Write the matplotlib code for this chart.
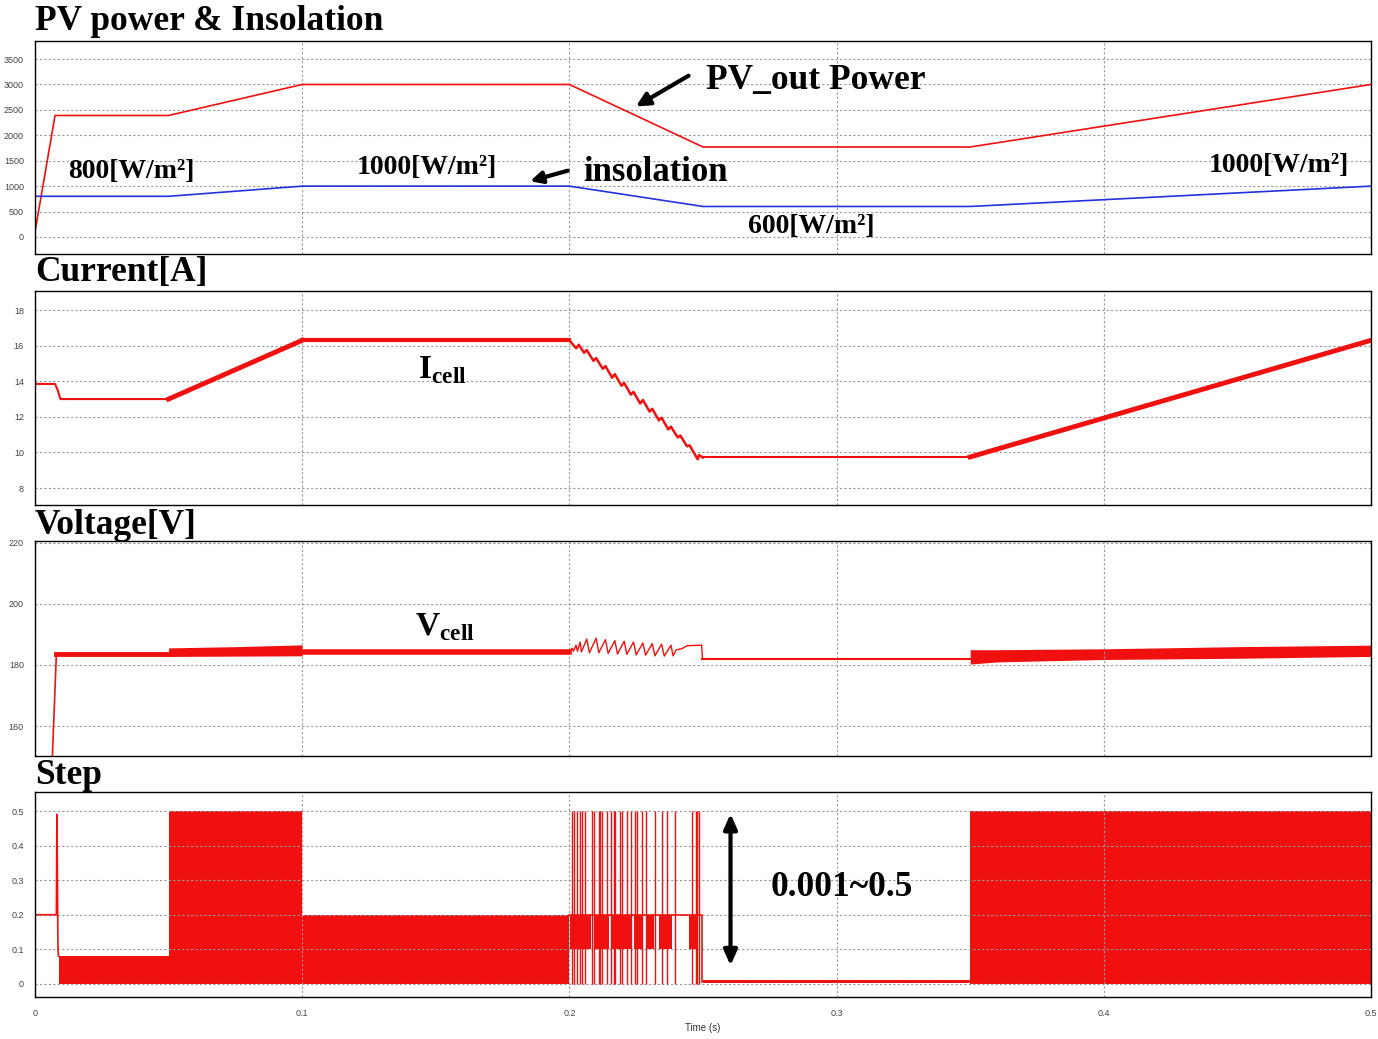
import matplotlib
matplotlib.use("Agg")
import matplotlib.pyplot as plt

RED = "#f01010"
BLUE = "#2233dd"
SERIF = "Liberation Serif"

plt.rcParams["mathtext.fontset"] = "custom"
plt.rcParams["mathtext.rm"] = "Liberation Serif:bold"
plt.rcParams["mathtext.bf"] = "Liberation Serif:bold"

# ---- PV power & insolation ----
pow_t = [0, 0.0075, 0.05, 0.1, 0.2, 0.25, 0.35, 0.5]
pow_w = [100, 2390, 2390, 3000, 3000, 1770, 1770, 3000]
ins_t = [0, 0.05, 0.1, 0.2, 0.25, 0.35, 0.5]
ins_w = [800, 800, 1000, 1000, 600, 600, 1000]

# ---- current ----
cur_start_t = [0, 0.0075, 0.0085, 0.0095, 0.05]
cur_start_v = [13.85, 13.85, 13.5, 13.0, 13.0]
cur_ramp1_t = [0.05, 0.1]
cur_ramp1_v = [13.0, 16.3]
cur_flat1_t = [0.1, 0.2]
cur_flat1_v = [16.3, 16.3]
cur_saw_t = [0.200, 0.2025, 0.2035, 0.2055, 0.2065, 0.2090, 0.2100, 0.2125,
             0.2135, 0.2160, 0.2170, 0.2195, 0.2205, 0.2230, 0.2240, 0.2265,
             0.2275, 0.2300, 0.2310, 0.2335, 0.2345, 0.2370, 0.2380, 0.2405,
             0.2415, 0.2440, 0.2450, 0.2480, 0.2485, 0.2500]
cur_saw_v = [16.30, 15.85, 16.05, 15.60, 15.75, 15.15, 15.30, 14.70,
             14.85, 14.20, 14.40, 13.75, 13.90, 13.25, 13.40, 12.75,
             12.95, 12.30, 12.45, 11.80, 11.95, 11.30, 11.45, 10.85,
             10.95, 10.35, 10.40, 9.62, 9.85, 9.72]
cur_flat2_t = [0.25, 0.35]
cur_flat2_v = [9.72, 9.72]
cur_ramp2_t = [0.35, 0.5]
cur_ramp2_v = [9.75, 16.3]

# ---- voltage ----
vol_start_t = [0.0065, 0.0080]
vol_start_v = [150, 183.6]
vol_flat1_t = [0.008, 0.05]
vol_flat1_v = [183.6, 183.6]
vol_band1_t = [0.05, 0.075, 0.1]
vol_band1_lo = [182.8, 182.9, 183.0]
vol_band1_hi = [185.6, 186.0, 186.6]
vol_flat2_t = [0.1, 0.2]
vol_flat2_v = [184.3, 184.3]
vol_saw_t = [0.2000, 0.2010, 0.2015, 0.2025, 0.2030, 0.2040, 0.2045, 0.2065,
             0.2075, 0.2100, 0.2110, 0.2135, 0.2145, 0.2170, 0.2180, 0.2205,
             0.2215, 0.2240, 0.2250, 0.2275, 0.2285, 0.2310, 0.2320, 0.2345,
             0.2355, 0.2380, 0.2388, 0.2400, 0.2420, 0.2440, 0.2495, 0.2498]
vol_saw_v = [184.3, 185.5, 184.5, 186.5, 184.5, 187.5, 184.3, 188.5,
             184.0, 188.8, 184.0, 188.3, 183.8, 188.0, 183.6, 187.8,
             183.5, 187.5, 183.3, 187.2, 183.2, 187.0, 183.0, 186.8,
             182.9, 186.5, 183.0, 185.0, 185.3, 186.3, 186.5, 181.9]
vol_flat3_t = [0.2498, 0.35]
vol_flat3_v = [181.9, 181.9]
vol_band2_t = [0.35, 0.36, 0.40, 0.45, 0.50]
vol_band2_lo = [180.3, 181.0, 181.8, 182.2, 182.8]
vol_band2_hi = [185.0, 185.0, 185.3, 186.0, 186.5]

# ---- step ----
step_start_t = [0, 0.0001, 0.0080, 0.0082, 0.0086, 0.0088]
step_start_v = [0, 0.2, 0.2, 0.49, 0.1, 0.08]
step_band_t0 = [0.0088, 0.05, 0.1, 0.25, 0.35]
step_band_t1 = [0.05, 0.1, 0.2, 0.35, 0.5]
step_band_lo = [0.0, 0.0, 0.0, 0.002, 0.0]
step_band_hi = [0.08, 0.5, 0.2, 0.010, 0.5]
step_mid_t0 = [0.2004, 0.2097, 0.2154, 0.2241, 0.2291, 0.2335, 0.2447]
step_mid_t1 = [0.2079, 0.2147, 0.2235, 0.2272, 0.2316, 0.2385, 0.2479]
step_spikes = [0.2010, 0.2016, 0.2029, 0.2041, 0.2047, 0.2060, 0.2085, 0.2091,
               0.2110, 0.2116, 0.2122, 0.2141, 0.2154, 0.2166, 0.2172, 0.2191,
               0.2197, 0.2216, 0.2229, 0.2247, 0.2254, 0.2272, 0.2285, 0.2322,
               0.2347, 0.2366, 0.2397, 0.2460, 0.2472, 0.2479, 0.2485]

x_ticks = [0, 0.1, 0.2, 0.3, 0.4, 0.5]
x_labels = ["0", "0.1", "0.2", "0.3", "0.4", "0.5"]

W, H = 1378, 1039
fig = plt.figure(figsize=(W / 100, H / 100), dpi=100)


def panel(top, bottom, ylim, yticks, title, title_y):
    ax = fig.add_axes([35 / W, 1 - bottom / H, (1371 - 35) / W, (bottom - top) / H])
    ax.set_xlim(0, 0.5)
    ax.set_ylim(*ylim)
    ax.set_yticks(yticks)
    ax.set_xticks(x_ticks)
    ax.set_xticklabels([])
    ax.tick_params(length=0, labelsize=6.5, labelcolor="#444444", pad=8)
    ax.tick_params(axis="x", pad=9)
    for lab in ax.get_yticklabels() + ax.get_xticklabels():
        lab.set_fontfamily("Liberation Sans")
    ax.grid(True, linestyle=(0, (2, 2)), color="#999999", linewidth=0.8)
    for s in ax.spines.values():
        s.set_linewidth(1.0)
    fig.text(35 / W, 1 - title_y / H, title, fontfamily=SERIF, fontweight="bold",
             fontsize=25.5, va="center", ha="left")
    return ax


# panel 1
ax1 = panel(41, 254, (-335, 3855), range(0, 3501, 500), "PV power & Insolation", 22)
ax1.plot(pow_t, pow_w, color=RED, lw=1.2)
ax1.plot(ins_t, ins_w, color=BLUE, lw=1.2)
txt = dict(fontfamily=SERIF, fontweight="bold", va="center", ha="left")
ax1.text(0.2510, 3080, "PV_out Power", fontsize=25.5, **txt)
ax1.annotate("", xy=(0.224, 2540), xytext=(0.2455, 3200),
             arrowprops=dict(arrowstyle="-|>,head_width=0.4,head_length=0.8", lw=3, color="black"))
ax1.text(0.2052, 1270, "insolation", fontsize=25, **txt)
ax1.annotate("", xy=(0.1843, 1083), xytext=(0.2004, 1319),
             arrowprops=dict(arrowstyle="-|>,head_width=0.35,head_length=0.7", lw=3, color="black"))
ax1.text(0.0124, 1290, "800[W/m²]", fontsize=20, **txt)
ax1.text(0.1206, 1370, "1000[W/m²]", fontsize=20, **txt)
ax1.text(0.2670, 210, "600[W/m²]", fontsize=20, **txt)
ax1.text(0.4393, 1410, "1000[W/m²]", fontsize=20, **txt)

# panel 2
ax2 = panel(291, 505, (7.05, 19.07), range(8, 19, 2), "Current[A]", 273)
ax2.plot(cur_start_t, cur_start_v, color=RED, lw=1.5)
ax2.plot(cur_ramp1_t, cur_ramp1_v, color=RED, lw=3.5)
ax2.plot(cur_flat1_t, cur_flat1_v, color=RED, lw=3)
ax2.plot(cur_saw_t, cur_saw_v, color=RED, lw=1.8)
ax2.plot(cur_flat2_t, cur_flat2_v, color=RED, lw=1.5)
ax2.plot(cur_ramp2_t, cur_ramp2_v, color=RED, lw=3.5)
ax2.text(0.1434, 14.6, r"I$_{\mathrm{cell}}$", fontsize=24, **txt)

# panel 3
ax3 = panel(541, 756, (150.2, 220.6), range(160, 221, 20), "Voltage[V]", 525)
ax3.plot(vol_start_t, vol_start_v, color=RED, lw=1.2)
ax3.plot(vol_flat1_t, vol_flat1_v, color=RED, lw=3.5)
ax3.fill_between(vol_band1_t, vol_band1_lo, vol_band1_hi, color=RED, lw=0)
ax3.plot(vol_flat2_t, vol_flat2_v, color=RED, lw=4)
ax3.plot(vol_saw_t, vol_saw_v, color=RED, lw=1.0)
ax3.plot(vol_flat3_t, vol_flat3_v, color=RED, lw=1.5)
ax3.fill_between(vol_band2_t, vol_band2_lo, vol_band2_hi, color=RED, lw=0)
ax3.text(0.1423, 192.5, r"V$_{\mathrm{cell}}$", fontsize=24, **txt)

# panel 4
ax4 = panel(792, 997, (-0.038, 0.555), [0, 0.1, 0.2, 0.3, 0.4, 0.5], "Step", 775)
ax4.set_xticklabels(x_labels, fontfamily="Liberation Sans")
ax4.set_yticklabels(["0", "0.1", "0.2", "0.3", "0.4", "0.5"], fontfamily="Liberation Sans")
ax4.set_xlabel("Time (s)", fontsize=7, color="#333333", labelpad=3, fontfamily="Liberation Sans")
ax4.plot(step_start_t, step_start_v, color=RED, lw=1.2)
for t0, t1, lo, hi in zip(step_band_t0, step_band_t1, step_band_lo, step_band_hi):
    ax4.fill_between([t0, t1], [lo, lo], [hi, hi], color=RED, lw=0)
for t0, t1 in zip(step_mid_t0, step_mid_t1):
    ax4.fill_between([t0, t1], [0.1, 0.1], [0.2, 0.2], color=RED, lw=0)
ax4.vlines(step_spikes, 0, 0.5, color=RED, lw=1.0)
ax4.plot([0.2, 0.2497, 0.2497], [0.2, 0.2, 0.005], color=RED, lw=1.2)
ax4.annotate("", xy=(0.2603, 0.5), xytext=(0.2603, 0.045),
             arrowprops=dict(arrowstyle="<|-|>,head_width=0.4,head_length=0.9", lw=3, color="black"))
ax4.text(0.2753, 0.28, "0.001~0.5", fontsize=25.5, **txt)

fig.savefig("out.png", dpi=100)
